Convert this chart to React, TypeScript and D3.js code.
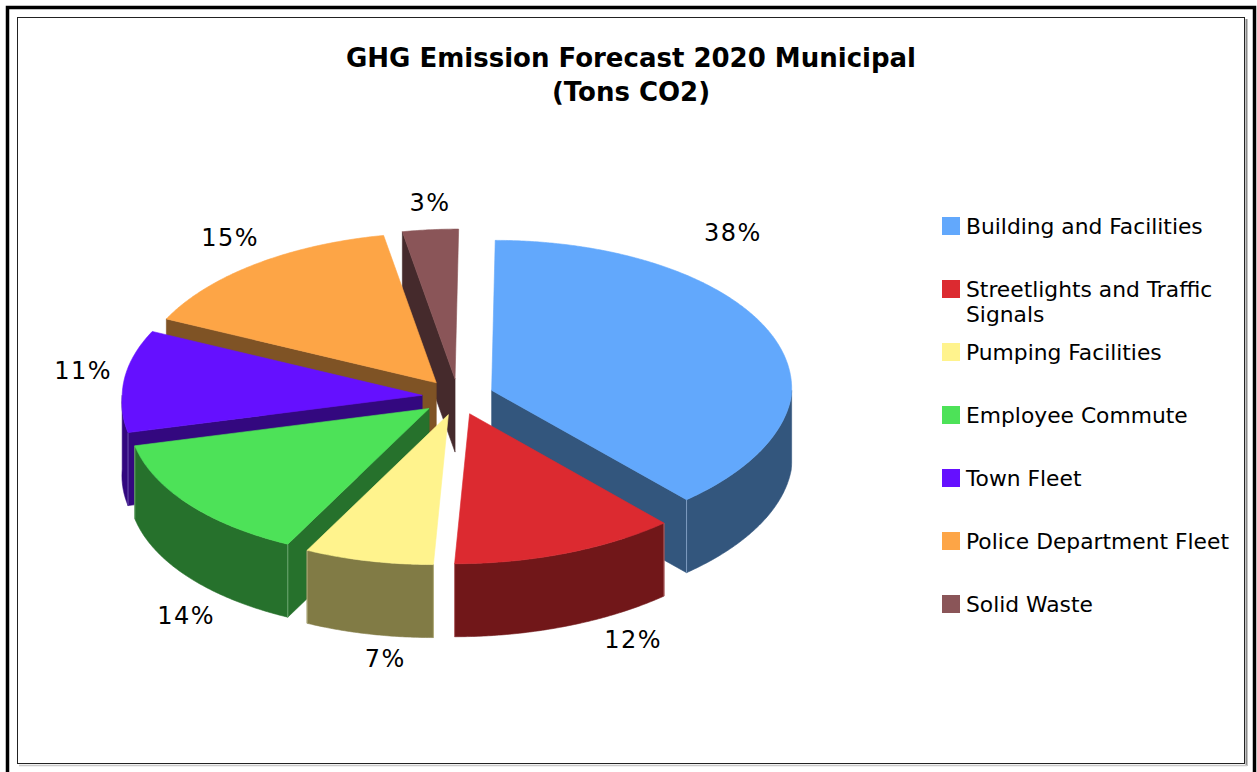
import React from "react";
import * as d3 from "d3";

// ---------- data ----------
const categories = [
  "Building and Facilities",
  "Streetlights and Traffic Signals",
  "Pumping Facilities",
  "Employee Commute",
  "Town Fleet",
  "Police Department Fleet",
  "Solid Waste",
];
const values = [38, 12, 7, 14, 11, 15, 3];
const titleLines = ["GHG Emission Forecast 2020 Municipal", "(Tons CO2)"];

// ---------- styles / layout ----------
const topColors = ["#62A8FC", "#DC2A30", "#FFF38D", "#4DE258", "#6510FF", "#FDA546", "#8A5558"];
const sideColors = ["#33567D", "#711719", "#817B45", "#26712C", "#33087F", "#7F5325", "#452A2C"];
const seamColors = ["#7F9CC2", "#B56A6D", "#B3AE7E", "#6FA874", "#6F55B0", "#B08A5F", "#7A6062"];
const labelAngleShift = [-28.8, -7.9, -4.5, -9, 2.5, 1.7, 0.6]; // degrees
const labelRadius = [425, 390, 382, 389, 379, 393, 389];

const W = 1257;
const H = 772;
const CX = 458;
const CY = 397;
const R = 300;
const TILT = 0.5;
const EXPLODE = 36;
const DEPTH = 73;
const FONT = "'DejaVu Sans', Verdana, sans-serif";

function proj(X: number, Y: number, z = 0): [number, number] {
  const shear = Y > 0 ? -0.05 * Y : -0.012 * Y;
  return [CX + X + shear, CY + Y * TILT + z];
}
function plane(a: number, r: number, off: [number, number]): [number, number] {
  return [off[0] + r * Math.sin(a), off[1] - r * Math.cos(a)];
}

const line = d3.line<[number, number]>();

function wrap(text: string, maxChars: number): string[] {
  if (text.length <= maxChars) return [text];
  const idx = text.lastIndexOf(" ", maxChars);
  return [text.slice(0, idx), text.slice(idx + 1)];
}

export default function App() {
  const total = d3.sum(values);
  const arcs = d3
    .pie<number>()
    .sort(null)
    .startAngle(0)
    .endAngle(2 * Math.PI)(values);

  const slices = arcs.map((a, i) => {
    const mid = (a.startAngle + a.endAngle) / 2;
    const off: [number, number] = [EXPLODE * Math.sin(mid), -EXPLODE * Math.cos(mid)];
    const a0 = a.startAngle;
    const a1 = a.endAngle;
    const rimPts = (from: number, to: number, z: number) => {
      const n = Math.max(2, Math.ceil(((to - from) * 180) / Math.PI / 0.5));
      const pts: [number, number][] = [];
      for (let k = 0; k <= n; k++) {
        const t = from + ((to - from) * k) / n;
        const p = plane(t, R, off);
        pts.push(proj(p[0], p[1], z));
      }
      return pts;
    };
    const apexTop = proj(off[0], off[1], 0);
    const apexBot = proj(off[0], off[1], DEPTH);
    const top = [apexTop, ...rimPts(a0, a1, 0)];
    const faces: { d: string; fill: string }[] = [];
    const seams: [number, number][][] = [];
    const cut = (ang: number) => {
      const p = plane(ang, R, off);
      return [apexTop, proj(p[0], p[1], 0), proj(p[0], p[1], DEPTH), apexBot] as [number, number][];
    };
    if (Math.sin(a0) < -1e-6) faces.push({ d: line(cut(a0))! + "Z", fill: sideColors[i] });
    if (Math.sin(a1) > 1e-6) faces.push({ d: line(cut(a1))! + "Z", fill: sideColors[i] });
    const s = Math.max(a0, Math.PI / 2);
    const e = Math.min(a1, (3 * Math.PI) / 2);
    if (e > s) {
      const topRim = rimPts(s, e, 0);
      const botRim = rimPts(s, e, DEPTH).reverse();
      faces.push({ d: line([...topRim, ...botRim])! + "Z", fill: sideColors[i] });
      [s, e].forEach((ang) => {
        if (ang > Math.PI / 2 + 1e-6 && ang < (3 * Math.PI) / 2 - 1e-6) {
          const p = plane(ang, R, off);
          seams.push([proj(p[0], p[1], 0), proj(p[0], p[1], DEPTH)]);
        }
      });
    }
    const la = mid + (labelAngleShift[i] * Math.PI) / 180;
    const lp = plane(la, labelRadius[i], [0, 0]);
    const lpos = proj(lp[0], lp[1], lp[1] > 0 ? DEPTH : 0);
    return {
      i,
      depth: -Math.cos(mid),
      top: line(top)! + "Z",
      faces,
      seams,
      label: `${Math.round((values[i] / total) * 100)}%`,
      lpos,
    };
  });

  const order = [...slices].sort((a, b) => a.depth - b.depth);

  const legendX = 942;
  const legendY0 = 217;
  const legendStep = 63;

  return (
    <svg
      width={W}
      height={H}
      style={{ position: "absolute", left: 0, top: 0, background: "#fff" }}
      fontFamily={FONT}
    >
      <rect x={0} y={0} width={W} height={H} fill="#fff" />
      <rect x={7.5} y={7.5} width={1247} height={H + 20} fill="none" stroke="#000" strokeWidth={3.5} />
      <line x1={1246.5} y1={19} x2={1246.5} y2={766} stroke="#8a8a8a" strokeWidth={2} />
      <line x1={19} y1={765.5} x2={1247} y2={765.5} stroke="#c8c8c8" strokeWidth={1.5} />
      <rect x={17.5} y={17.5} width={1227} height={746} fill="#fff" stroke="#222" strokeWidth={1} />

      {titleLines.map((t, k) => (
        <text
          key={k}
          x={631}
          y={67 + k * 34}
          textAnchor="middle"
          fontWeight="bold"
          fontSize={26}
          fill="#000"
        >
          {t}
        </text>
      ))}

      {order.map((s) => (
        <g key={s.i}>
          {s.faces.map((f, k) => (
            <path key={k} d={f.d} fill={f.fill} stroke={f.fill} strokeWidth={0.6} />
          ))}
          {s.seams.map((sm, k) => (
            <line
              key={"s" + k}
              x1={sm[0][0]}
              y1={sm[0][1]}
              x2={sm[1][0]}
              y2={sm[1][1]}
              stroke={seamColors[s.i]}
              strokeWidth={1}
            />
          ))}
          <path d={s.top} fill={topColors[s.i]} stroke={topColors[s.i]} strokeWidth={0.6} />
        </g>
      ))}

      {slices.map((s) => (
        <text
          key={"l" + s.i}
          x={s.lpos[0]}
          y={s.lpos[1]}
          textAnchor="middle"
          dominantBaseline="central"
          fontSize={24}
          letterSpacing={1.5}
          fill="#000"
        >
          {s.label}
        </text>
      ))}

      {categories.map((c, i) => {
        const y = legendY0 + i * legendStep;
        const lines = wrap(c, 24);
        return (
          <g key={"lg" + i}>
            <rect x={legendX} y={y} width={18} height={18} fill={topColors[i]} />
            {lines.map((ln, k) => (
              <text key={k} x={966} y={y + 17 + k * 25} fontSize={21.8} fill="#000">
                {ln}
              </text>
            ))}
          </g>
        );
      })}
    </svg>
  );
}
